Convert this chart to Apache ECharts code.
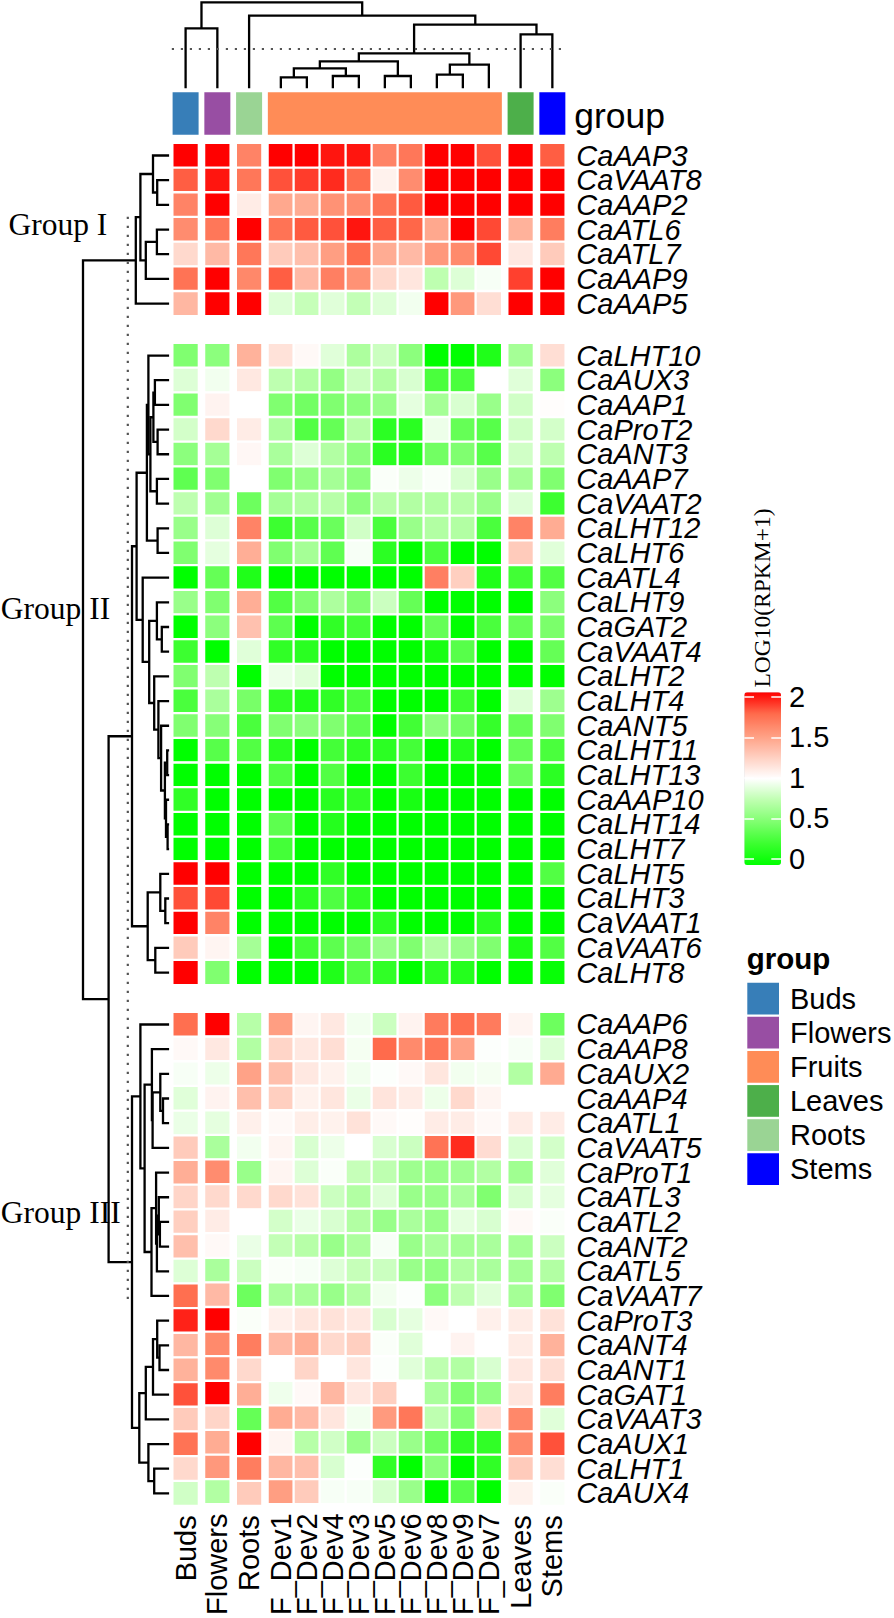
<!DOCTYPE html>
<html><head><meta charset="utf-8">
<style>html,body{margin:0;padding:0;background:#fff}#c{width:894px;height:1618px}</style>
<script src="https://cdn.jsdelivr.net/npm/echarts@6/dist/echarts.min.js"></script>
</head><body><div id="c"></div>
<script>
// ---------- categories ----------
const columnBlocks = [['Buds'],['Flowers'],['Roots'],
  ['F_Dev1','F_Dev2','F_Dev4','F_Dev3','F_Dev5','F_Dev6','F_Dev8','F_Dev9','F_Dev7'],
  ['Leaves'],['Stems']];
const blockGroups = ['Buds','Flowers','Roots','Fruits','Leaves','Stems'];
const legendGroups = ['Buds','Flowers','Fruits','Leaves','Roots','Stems'];
const groupColors = {Buds:'#377EB8',Flowers:'#984EA3',Fruits:'#FF8C57',Leaves:'#4DAF4A',Roots:'#9AD494',Stems:'#0000FF'};
const colorbarColors = ['#00ff00','#3cff30','#80ff70','#beffb0','#ffffff','#ffcfc0','#ff9e82','#ff6b4c','#ff0000'];

const genesI = ['CaAAP3','CaVAAT8','CaAAP2','CaATL6','CaATL7','CaAAP9','CaAAP5'];
const genesII = ['CaLHT10','CaAUX3','CaAAP1','CaProT2','CaANT3','CaAAP7','CaVAAT2','CaLHT12','CaLHT6','CaATL4','CaLHT9','CaGAT2','CaVAAT4','CaLHT2','CaLHT4','CaANT5','CaLHT11','CaLHT13','CaAAP10','CaLHT14','CaLHT7','CaLHT5','CaLHT3','CaVAAT1','CaVAAT6','CaLHT8'];
const genesIII = ['CaAAP6','CaAAP8','CaAUX2','CaAAP4','CaATL1','CaVAAT5','CaProT1','CaATL3','CaATL2','CaANT2','CaATL5','CaVAAT7','CaProT3','CaANT4','CaANT1','CaGAT1','CaVAAT3','CaAUX1','CaLHT1','CaAUX4'];

// ---------- values (LOG10(RPKM+1)), one row per gene ----------
const valuesI = [
[2,2,1.63,2,2,1.95,1.95,1.63,1.69,2,2,1.81,2,1.78],
[1.78,1.95,1.69,1.81,1.86,1.9,1.74,1.07,1.59,2,2,2,2,2],
[1.63,2,1.1,1.45,1.43,1.56,1.59,1.71,1.79,2,2,2,2,2],
[1.59,1.69,2,1.71,1.79,1.81,1.95,1.78,1.76,1.45,2,1.83,1.4,1.66],
[1.2,1.36,1.69,1.27,1.33,1.5,1.74,1.43,1.36,1.53,1.6,1.83,1.12,1.27],
[1.71,2,1.61,1.78,1.36,1.65,1.56,1.2,1.13,.75,.87,.97,1.85,2],
[1.37,2,2,.87,.78,.88,.77,.87,.95,2,1.53,1.17,2,2]];
const valuesII = [
[.5,.55,1.4,1.15,1.03,.88,.68,.8,.55,0,0,.13,.65,1.17],
[.87,.95,1.12,.75,.7,.58,.8,.7,.85,.3,.3,1,.88,.55],
[.5,1.06,1,.5,.45,.5,.55,.6,.9,.65,.85,.6,.82,1.01],
[.83,1.2,1.1,.68,.33,.4,.72,.18,.17,.93,.4,.35,.82,.83],
[.55,.65,1.04,.67,.87,.7,.55,.17,.15,.45,.5,.35,.82,.75],
[.38,.5,1,.5,.58,.65,.55,.98,.93,.98,.85,.6,.65,.5],
[.75,.63,.43,.65,.7,.72,.55,.72,.7,.7,.72,.6,.87,.25],
[.6,.87,1.63,.25,.35,.42,.82,.3,.6,.7,.7,.3,1.63,1.43],
[.5,.9,1.42,.5,.65,.38,.97,.18,0,.3,0,0,1.27,.88],
[0,.4,.13,0,0,0,0,0,0,1.65,1.25,.13,.27,.33],
[.6,.5,1.42,.33,.5,.68,.5,.8,.4,0,0,0,0,.55],
[0,.55,1.32,.37,0,.2,.28,0,0,.4,0,.3,.4,.48],
[.25,0,.88,.2,.17,0,0,0,0,.1,.35,0,0,.4],
[.5,.75,0,.93,.88,0,0,0,0,0,0,0,0,0],
[.3,.67,.47,.2,.13,.2,.3,0,0,0,.25,0,.87,.62],
[.5,.53,.3,.5,.55,.5,.37,0,.27,.55,.45,.22,.4,.5],
[0,.35,.33,.17,0,.28,.2,.18,.28,0,.15,0,.4,.3],
[0,0,0,.32,0,.33,0,0,.25,0,0,0,.42,.18],
[.2,0,0,0,0,.17,.2,0,.1,0,0,0,0,0],
[0,0,0,.37,0,.15,0,0,0,0,0,0,0,0],
[0,0,0,.28,0,0,0,0,0,0,0,0,0,0],
[2,2,0,0,0,.2,0,0,0,0,0,0,0,.33],
[1.81,1.83,0,0,.18,.32,.2,0,0,0,0,0,0,0],
[2,1.63,0,0,0,0,0,.18,0,0,0,.18,0,0],
[1.27,1.05,.65,0,.27,.37,.45,.6,.5,.7,.6,.5,.12,.33],
[2,.5,0,0,0,.13,.33,.2,0,.18,.15,0,0,.03]];
const valuesIII = [
[1.73,2,.72,1.5,1.05,1.12,.95,.8,1.06,1.67,1.73,1.67,1.05,.43],
[1.03,1.12,.7,1.22,1.12,1.17,.96,1.75,1.6,1.69,1.48,.99,.97,.87],
[.97,.93,1.48,1.33,1.12,1.07,.95,.99,1.03,1.13,.95,.96,.7,1.44],
[.88,1.06,1.33,1.25,1.07,1.13,.92,1.14,1.1,.93,1.2,1.05,1,1],
[.92,.9,1.08,1.03,1.09,1.07,1.15,1.03,1.01,1.1,1.1,1.03,1.1,1.1],
[1.27,.67,.95,1.05,.85,.93,1,.85,.8,1.71,1.9,1.18,.85,.83],
[1.42,1.59,.6,1.05,.87,.98,.78,.75,.62,.6,.63,.7,.63,.88],
[1.22,1.2,1.2,1.2,1.15,.8,.7,.87,.6,.6,.67,.5,.85,.9],
[1.25,1.1,1,.83,.92,.85,.7,.6,.67,.6,.9,.85,1.03,.98],
[1.33,1.03,.92,.77,.72,.6,.68,.97,.6,.67,.65,.67,.65,.8],
[.87,.67,.8,.98,.97,.87,.78,.8,.6,.57,.7,.67,.65,.7],
[1.73,1.36,.43,.67,.66,.6,.7,.95,.99,.55,.75,.88,.65,.5],
[1.92,2,.98,1.08,1.13,1.15,1.12,.85,.9,1.03,1,1.08,1.1,1.15],
[1.37,1.6,1.66,1.36,1.42,1.2,1.25,.98,.88,1,1.06,1,1.1,1.4],
[1.4,1.6,1.2,1,1.22,1,1.13,.99,.88,.75,.7,.85,1.12,1.17],
[1.81,2,1.42,.94,1.03,1.37,1.12,1.25,1,.67,.5,.57,1.13,1.66],
[1.27,1.22,.4,1.43,1.36,1.13,.95,1.52,1.69,.75,.52,1.17,1.61,.88],
[1.71,1.43,2,1.05,.72,.82,.6,.8,.6,.45,.2,.2,1.6,1.81],
[1.2,1.53,1.66,1.37,1.33,.85,.99,.2,0,.55,0,.2,1.27,1.17],
[.82,.7,1.27,1.5,1.27,.97,.97,.85,.6,0,.35,0,1.07,.98]];

// ---------- dendrograms: [merge height, left, right] ----------
const rowTreeI = [33.3,[28.7,[16.1,'CaAAP3',[11.9,'CaVAAT8','CaAAP2']],[23.3,[12.2,'CaATL6','CaATL7'],'CaAAP9']],'CaAAP5'];
const rowTreeII = [37.1,
  [32.5,
    [22.2,
      [20.7,'CaLHT10',[18.7,[15.7,[14.2,'CaAUX3','CaAAP1'],[11.5,'CaProT2','CaANT3']],[12.2,'CaAAP7','CaVAAT2']]],
      [11.5,'CaLHT12','CaLHT6']],
    [26.4,'CaATL4',[19.9,[12.2,'CaLHT9',[7.3,'CaGAT2','CaVAAT4']],
      [14.9,'CaLHT2',[10.7,'CaLHT4',[8,'CaANT5',[4.2,[1.9,'CaLHT11','CaLHT13'],[3.1,'CaAAP10',[1.5,'CaLHT14','CaLHT7']]]]]]]]],
  [21.4,[8.8,'CaLHT5',[3.8,'CaLHT3','CaVAAT1']],[13.8,'CaVAAT6','CaLHT8']]];
const rowTreeIII = [37.1,
  [28.7,'CaAAP6',[24.5,
    [17.2,'CaAAP8',[16.5,[8.8,'CaAUX2',[6.1,'CaAAP4','CaATL1']],'CaVAAT5']],
    [17.6,[13,'CaProT1',[12.2,[10.3,'CaATL3',[9.2,'CaATL2','CaANT2']],'CaATL5']],'CaVAAT7']]],
  [29.8,[23.3,[16.1,[11.9,'CaProT3',[9.6,'CaANT4','CaANT1']],'CaGAT1'],'CaVAAT3'],
        [20.7,'CaAUX1',[14.9,'CaLHT1','CaAUX4']]]];
const rowRootMerges = [[60.5,rowTreeII,rowTreeIII]];
const rowRootHeight = 86.1;
const colTree = [86,
  [60,'Buds','Flowers'],
  [72.6,'Roots',[63.6,
    [35,[27,[20,[11,'F_Dev1','F_Dev2'],[12.3,'F_Dev4','F_Dev3']],[12.3,'F_Dev5','F_Dev6']],
        [23.6,[13.6,'F_Dev8','F_Dev9'],'F_Dev7']],
    [54,'Leaves','Stems']]]];
const rowCutHeight = 41.3, colCutHeight = 39.3;

// ---------- layout (pixels) ----------
const colPitch = 26, colGap = 5.75, colLeft = 172.6;
const rowPitch = 24.68, rowGap = 27.27, rowTop = 143.16;
const rowBlocks = [[genesI,valuesI],[genesII,valuesII],[genesIII,valuesIII]];
const sansFont = '"Liberation Sans", Arial, sans-serif';
const serifFont = '"Liberation Serif", "Times New Roman", serif';

const grids = [], xAxes = [], yAxes = [], series = [];
function addGrid(rect, xAxis, yAxis) {
  grids.push(Object.assign({containLabel:false}, rect));
  const i = grids.length - 1;
  xAxes.push(Object.assign({gridIndex:i}, xAxis));
  yAxes.push(Object.assign({gridIndex:i}, yAxis));
  return i;
}
const quiet = {axisLine:{show:false}, axisTick:{show:false}, splitLine:{show:false}, axisLabel:{show:false}};

// block geometry
const blockRects = []; let cx = colLeft, colPos = {};
columnBlocks.forEach((names, b) => {
  blockRects.push({left:cx, width:names.length*colPitch});
  names.forEach((n,k) => { colPos[n] = (cx + (k+.5)*colPitch - colLeft)/colPitch; });
  cx += names.length*colPitch + colGap;
});
const heatRight = cx - colGap;
const rowRects = []; let ry = rowTop, rowPos = {};
rowBlocks.forEach(([genes]) => {
  rowRects.push({top:ry, height:genes.length*rowPitch});
  genes.forEach((g,k) => { rowPos[g] = (ry + (k+.5)*rowPitch - rowTop)/rowPitch; });
  ry += genes.length*rowPitch + rowGap;
});
const heatBottom = ry - rowGap;

// heat cells
const heatSeries = [];
rowBlocks.forEach(([genes, vals], r) => {
  let offset = 0;
  columnBlocks.forEach((names, b) => {
    const isBottom = r === rowBlocks.length-1, isRight = b === columnBlocks.length-1;
    const g = addGrid(
      {left:blockRects[b].left, width:blockRects[b].width, top:rowRects[r].top, height:rowRects[r].height},
      Object.assign({}, quiet, {type:'category', data:names, axisLabel:{show:isBottom, interval:0, rotate:90, margin:9.5,
        fontFamily:sansFont, fontSize:29, color:'#000'}}),
      Object.assign({}, quiet, {type:'category', data:genes, inverse:true, position:'right', axisLabel:{show:isRight, interval:0, margin:11,
        fontFamily:sansFont, fontStyle:'italic', fontSize:29, color:'#000'}})
    );
    const data = [];
    genes.forEach((_,i) => names.forEach((_,j) => data.push([j,i,vals[i][offset+j]])));
    heatSeries.push(series.length);
    series.push({type:'heatmap', xAxisIndex:g, yAxisIndex:g, data, progressive:0,
      itemStyle:{borderColor:'#fff', borderWidth:2.3}, emphasis:{disabled:true}});
    offset += names.length;
  });
});

// annotation bar
blockGroups.forEach((name,b) => {
  const g = addGrid({left:blockRects[b].left, width:blockRects[b].width, top:92.3, height:42.4},
    Object.assign({}, quiet, {type:'category', data:[name], show:false}),
    Object.assign({}, quiet, {type:'value', min:0, max:1, show:false}));
  series.push({type:'bar', name, xAxisIndex:g, yAxisIndex:g, data:[1], barWidth:'100%',
    itemStyle:{color:groupColors[name]}, emphasis:{disabled:true}});
});

// dendrogram helpers
function collect(node, pos, out) {
  if (typeof node === 'string') return {p:pos[node], h:0};
  const a = collect(node[1], pos, out), b = collect(node[2], pos, out);
  out.push([a.p, a.h, b.p, b.h, node[0]]);
  return {p:(a.p+b.p)/2, h:node[0]};
}
const lineStyleD = {stroke:'#000', lineWidth:2.3, fill:null};

// row dendrogram: x = merge height, y = row position
const rowMerges = [];
const nI = collect(rowTreeI, rowPos, rowMerges);
const nRest = collect(rowRootMerges[0], rowPos, rowMerges);
rowMerges.push([nI.p, nI.h, nRest.p, nRest.h, rowRootHeight]);
const leafX = 169.1, rowSlots = (heatBottom-rowTop)/rowPitch;
const rd = addGrid({left:leafX-rowRootHeight, width:rowRootHeight, top:rowTop, height:heatBottom-rowTop},
  Object.assign({}, quiet, {type:'value', min:0, max:rowRootHeight, inverse:true, show:false}),
  Object.assign({}, quiet, {type:'value', min:0, max:rowSlots, inverse:true, show:false}));
series.push({type:'custom', xAxisIndex:rd, yAxisIndex:rd, data:rowMerges, clip:false, silent:true,
  encode:{x:[1,3,4], y:[0,2]},
  renderItem:(p,api)=>{
    const pa=api.coord([api.value(1),api.value(0)]), qa=api.coord([api.value(4),api.value(0)]),
          qb=api.coord([api.value(4),api.value(2)]), pb=api.coord([api.value(3),api.value(2)]);
    return {type:'polyline', shape:{points:[pa,qa,qb,pb]}, style:lineStyleD};
  }});
series.push({type:'line', xAxisIndex:rd, yAxisIndex:rd, data:[[rowCutHeight,2.98],[rowCutHeight,46.9]], showSymbol:false, silent:true,
  lineStyle:{color:'#555', width:2.2, type:[2.2,6.8]}});

// column dendrogram: x = column position, y = merge height
const colMerges = [];
collect(colTree, colPos, colMerges);
const cd = addGrid({left:colLeft, width:heatRight-colLeft, top:2.3, height:86},
  Object.assign({}, quiet, {type:'value', min:0, max:(heatRight-colLeft)/colPitch, show:false}),
  Object.assign({}, quiet, {type:'value', min:0, max:86, show:false}));
series.push({type:'custom', xAxisIndex:cd, yAxisIndex:cd, data:colMerges, clip:false, silent:true,
  encode:{x:[0,2], y:[1,3,4]},
  renderItem:(p,api)=>{
    const pa=api.coord([api.value(0),api.value(1)]), qa=api.coord([api.value(0),api.value(4)]),
          qb=api.coord([api.value(2),api.value(4)]), pb=api.coord([api.value(2),api.value(3)]);
    return {type:'polyline', shape:{points:[pa,qa,qb,pb]}, style:lineStyleD};
  }});
series.push({type:'line', xAxisIndex:cd, yAxisIndex:cd, data:[[-.03,colCutHeight],[15.0,colCutHeight]], showSymbol:false, silent:true,
  lineStyle:{color:'#555', width:2.2, type:[2.2,6.8]}});

// colour bar ticks
const cb = addGrid({left:744.3, width:36.7, top:696.7, height:162.3},
  {type:'value', min:0, max:1, show:false},
  {type:'value', min:0, max:2, interval:.5, position:'left', z:10, axisLine:{show:false}, splitLine:{show:false},
   axisLabel:{show:false}, axisTick:{inside:true, length:9.7, lineStyle:{color:'#fff', width:1.5}}});
yAxes.push({gridIndex:cb, type:'value', min:0, max:2, interval:.5, position:'right', z:10, axisLine:{show:false}, splitLine:{show:false},
   axisLabel:{margin:8, fontFamily:sansFont, fontSize:29, color:'#000'},
   axisTick:{inside:true, length:9.7, lineStyle:{color:'#fff', width:1.5}}});

function label(text, x, y, font, extra) {
  return Object.assign({type:'text', x, y, z:50, style:{text, font, fill:'#000', textVerticalAlign:'middle', textAlign:'left'}}, extra||{});
}

const option = {
  animation:false, backgroundColor:'#fff',
  grid:grids, xAxis:xAxes, yAxis:yAxes, series,
  visualMap:[{type:'continuous', min:0, max:2, seriesIndex:heatSeries, inRange:{color:colorbarColors},
    left:744.3, top:692.3, itemWidth:36.7, itemHeight:172.7, padding:0, calculable:false, showLabel:false, text:null, z:1, hoverLink:false}],
  legend:{orient:'vertical', left:747.3, top:982.7, padding:0, itemWidth:31.7, itemHeight:31.7, itemGap:2.43, icon:'rect', selectedMode:false,
    data:legendGroups, textStyle:{fontFamily:sansFont, fontSize:29, color:'#000', padding:[0,0,0,6]}},
  graphic:[
    label('group', 574.3, 115.5, '35.5px '+sansFont),
    label('group', 746.7, 958, 'bold 29.5px '+sansFont),
    label('Group I', 8.4, 224, '31.5px '+serifFont),
    label('Group II', .8, 608, '31.5px '+serifFont),
    label('Group III', .8, 1212, '31.5px '+serifFont),
    Object.assign(label('LOG10(RPKM+1)', 762, 598, '23.5px '+serifFont), {rotation:Math.PI/2, style:{text:'LOG10(RPKM+1)', font:'23.5px '+serifFont, fill:'#000', textVerticalAlign:'middle', textAlign:'center'}})
  ]
};
const chart = echarts.init(document.getElementById('c'), null, {renderer:'svg', width:894, height:1618});
chart.setOption(option);
</script></body></html>
